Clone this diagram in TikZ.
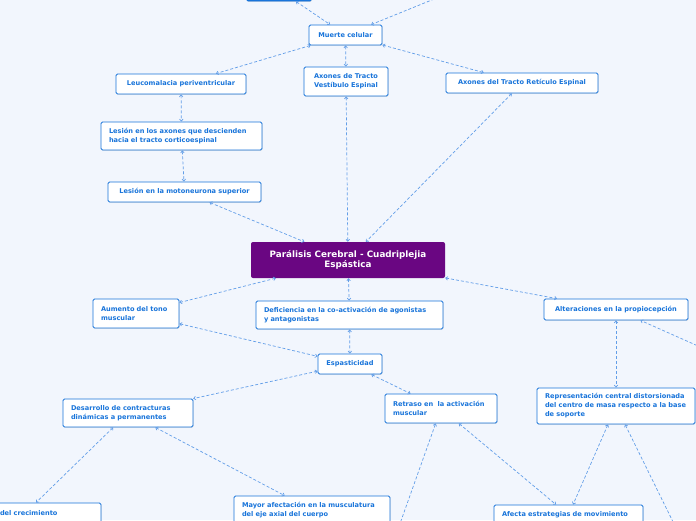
\documentclass[tikz,border=0pt]{standalone}
\usepackage{fontspec}
\setmainfont{DejaVu Sans}
\usetikzlibrary{arrows.meta,shadows}
\definecolor{mapbg}{RGB}{242,246,253}
\definecolor{topicblue}{RGB}{24,116,218}
\definecolor{linkblue}{RGB}{98,158,232}
\definecolor{rootpurple}{RGB}{106,6,130}

\begin{document}
\begin{tikzpicture}[x=1pt,y=-1pt,
    topic/.style={draw=topicblue,line width=0.8pt,fill=white,rounded corners=1.5pt,
      text=topicblue,font=\fontsize{6.6}{9}\selectfont\bfseries,align=left,
      inner xsep=8pt,inner ysep=0pt,
      drop shadow={opacity=0.2,shadow xshift=0.6pt,shadow yshift=-0.8pt}},
    root/.style={fill=rootpurple,rounded corners=2pt,text=white,align=center,
      font=\fontsize{8.8}{10.7}\selectfont\bfseries,minimum width=194pt,minimum height=36pt},
    link/.style={draw=linkblue,line width=0.7pt,dash pattern=on 3pt off 2pt,
      {Straight Barb[length=2pt,width=3.5pt]}-{Straight Barb[length=2pt,width=3.5pt]}}]
      \useasboundingbox (0,0) rectangle (696,520);
      \clip (0,0) rectangle (696,520);
      \fill[mapbg] (0,0) rectangle (696,520);
      % Upper branch
      \node[topic,fill=topicblue,minimum width=65pt,minimum height=22pt] (cause) at (279,-10) {};
      \node[topic,minimum width=73pt,minimum height=20pt] (muerte) at (345.5,35) {Muerte celular};
      \node[topic,minimum width=130pt,minimum height=20pt] (leuco) at (181,84) {Leucomalacia periventricular};
      \node[topic,align=center,minimum width=84pt,minimum height=29pt] (vestib) at (346,81.5) {Axones de Tracto\\Vestíbulo Espinal};
      \node[topic,minimum width=152pt,minimum height=20pt] (retic) at (522,83) {Axones del Tracto Retículo Espinal};
      \node[topic,text width=145pt,minimum height=28pt] (lesax) at (181.5,136) {Lesión en los axones que descienden\\hacia el tracto corticoespinal};
      \node[topic,minimum width=153pt,minimum height=20pt] (moto) at (184.5,192) {Lesión en la motoneurona superior};
      % Central topic
      \node[root] (pc) at (348,260) {Parálisis Cerebral - Cuadriplejia\\Espástica};
      % Lower branch
      \node[topic,text width=70pt,minimum height=29pt] (tono) at (136,313.5) {Aumento del tono\\muscular};
      \node[topic,text width=171pt,minimum height=28pt] (coact) at (349.5,315) {Deficiencia en la co-activación de agonistas\\y antagonistas};
      \node[topic,minimum width=144pt,minimum height=21pt] (propio) at (616,309.5) {Alteraciones en la propiocepción};
      \node[topic,minimum width=64pt,minimum height=20pt] (espas) at (350,364) {Espasticidad};
      \node[topic,text width=114pt,minimum height=28pt] (contrac) at (128,413) {Desarrollo de contracturas\\dinámicas a permanentes};
      \node[topic,text width=96pt,minimum height=29pt] (retraso) at (441,408.5) {Retraso en\ \ la activación\\muscular};
      \node[topic,text width=142pt,minimum height=36pt] (centro) at (616,406) {Representación central distorsionada\\del centro de masa respecto a la base\\de soporte};
      \node[topic,text width=93pt,minimum height=28pt] (crec) at (46.5,517) {del crecimiento\\\mbox{}};
      \node[topic,text width=140pt,minimum height=28pt] (axial) at (312,510) {Mayor afectación en la musculatura\\del eje axial del cuerpo};
      \node[topic,text width=133pt,minimum height=20pt] (afecta) at (568.5,515) {Afecta estrategias de movimiento};
      % Free ends leaving the picture
      \coordinate (offtop) at (449,-7);
      \coordinate (offright) at (716,354);
      \coordinate (offleft) at (397,532);
      \coordinate (offdown) at (678,532);
      % Connectors
      \foreach \a/\b in {cause/muerte,muerte/leuco,muerte/vestib,muerte/retic,leuco/lesax,lesax/moto,
          moto/pc,vestib/pc,retic/pc,pc/tono,pc/coact,pc/propio,coact/espas,tono/espas,espas/contrac,
          espas/retraso,contrac/axial,retraso/afecta,propio/centro,centro/afecta,
          offtop/muerte,offright/propio,offleft/retraso,offdown/centro} {
        \draw[link] (\a) -- (\b);
      }
      \draw[link] (contrac) -- ([xshift=-10.5pt]crec.north);
    \end{tikzpicture}
\end{document}
